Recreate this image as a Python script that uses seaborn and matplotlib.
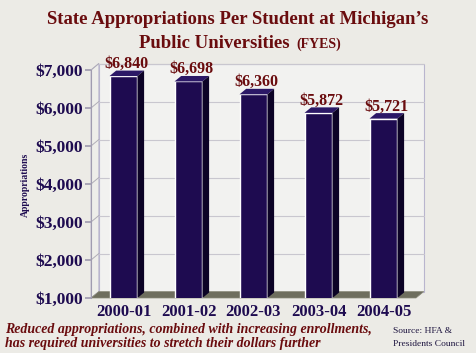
import matplotlib
matplotlib.use("Agg")
import matplotlib.pyplot as plt
import seaborn as sns
import pandas as pd
from matplotlib.patches import Polygon

years = ["2000-01", "2001-02", "2002-03", "2003-04", "2004-05"]
values = [6840, 6698, 6360, 5872, 5721]
value_labels = ["$6,840", "$6,698", "$6,360", "$5,872", "$5,721"]
yticks = [1000, 2000, 3000, 4000, 5000, 6000, 7000]
ytick_labels = ["$1,000", "$2,000", "$3,000", "$4,000", "$5,000", "$6,000", "$7,000"]

sns.set_theme(style="white")
plt.rcParams['font.family'] = ['Liberation Serif', 'DejaVu Serif']

BG = "#ECEBE6"
NAVY = "#1E0B50"
RED = "#6A0C0E"

fig = plt.figure(figsize=(4.76, 3.53), dpi=100, facecolor=BG)
ax = fig.add_axes([91/476, (353-298)/353, 325/476, 228/353])
ax.set_facecolor("none")

df = pd.DataFrame({"year": years, "value": values})
sns.barplot(data=df, x="year", y="value", color=NAVY, width=0.43, ax=ax,
            saturation=1, zorder=5)
bars = list(ax.patches)
ax.set_ylim(1000, 7000)
ax.set_xlim(-0.5, 4.5)

dx, dy = 0.12, 170
bd = 0.85
# back wall
wall = Polygon([(-0.5+dx, 1000+dy), (4.5+dx, 1000+dy), (4.5+dx, 7000+dy), (-0.5+dx, 7000+dy)],
               closed=True, facecolor="#F2F2F0", edgecolor="#B9B5CE", lw=0.8, clip_on=False, zorder=0)
ax.add_patch(wall)
side = Polygon([(-0.5, 1000), (-0.5+dx, 1000+dy), (-0.5+dx, 7000+dy), (-0.5, 7000)],
               closed=True, facecolor="#EEEEEA", edgecolor="#B9B5CE", lw=0.6, clip_on=False, zorder=0.5)
ax.add_patch(side)
for t in yticks[1:]:
    ax.plot([-0.5+dx, 4.5+dx], [t+dy, t+dy], color="#C9C7CF", lw=0.8, zorder=1, clip_on=False)
    ax.plot([-0.5, -0.5+dx], [t, t+dy], color="#B0ADB8", lw=0.7, zorder=1, clip_on=False)
floor = Polygon([(-0.5, 1000), (4.5, 1000), (4.5+dx, 1000+dy), (-0.5+dx, 1000+dy)],
                closed=True, facecolor="#6E6E5E", edgecolor="#8A8A7A", lw=0.5, clip_on=False, zorder=2)
ax.add_patch(floor)

for p, lab in zip(bars, value_labels):
    x0 = p.get_x(); w = p.get_width(); h = p.get_height() + p.get_y()
    top = Polygon([(x0, h), (x0+w, h), (x0+w+dx*bd, h+dy*bd), (x0+dx*bd, h+dy*bd)],
                  closed=True, facecolor="#2B1866", edgecolor="none", zorder=6, clip_on=False)
    sd = Polygon([(x0+w, 1000), (x0+w+dx*bd, 1000+dy*bd), (x0+w+dx*bd, h+dy*bd), (x0+w, h)],
                 closed=True, facecolor="#0C0326", edgecolor="none", zorder=6, clip_on=False)
    ax.add_patch(top); ax.add_patch(sd)
    ax.text(x0 + w/2 + 0.05, h + 110, lab, ha="center", va="bottom", color=RED,
            fontsize=11.5, fontweight="bold", zorder=7, clip_on=False)

for s in ["top", "right", "bottom"]:
    ax.spines[s].set_visible(False)
ax.spines["left"].set_color("#A09CB0")
ax.spines["left"].set_linewidth(0.8)
ax.set_yticks(yticks)
ax.set_yticklabels(ytick_labels, fontsize=12.5, fontweight="bold", color=NAVY)
ax.tick_params(axis="y", length=4, color="#A09CB0", left=True, pad=2)
ax.tick_params(axis="x", length=0, pad=4)
for lbl in ax.get_xticklabels():
    lbl.set_fontsize(12); lbl.set_fontweight("bold"); lbl.set_color(NAVY)
ax.set_xlabel("")
ax.set_ylabel("")

fig.text(25/476, 1 - 185/353, "Appropriations", rotation=90, ha="center", va="center",
         fontsize=7, fontweight="bold", color=NAVY)

fig.text(0.5, 1 - 20/353, "State Appropriations Per Student at Michigan\u2019s", ha="center",
         va="center", fontsize=13.5, fontweight="bold", color=RED)
fig.text(290/476, 1 - 44/353, "Public Universities", ha="right", va="center", fontsize=13.5,
         fontweight="bold", color=RED)
fig.text(296/476, 1 - 44/353, "(FYES)", ha="left", va="center", fontsize=10,
         fontweight="bold", color=RED)

fig.text(5/476, 1 - 329/353, "Reduced appropriations, combined with increasing enrollments,",
         ha="left", va="center", fontsize=10, fontweight="bold", style="italic", color=RED)
fig.text(5/476, 1 - 344/353, "has required universities to stretch their dollars further",
         ha="left", va="center", fontsize=10, fontweight="bold", style="italic", color=RED)
fig.text(393/476, 1 - 331/353, "Source: HFA &", ha="left", va="center", fontsize=6.8, color="#1E1540")
fig.text(393/476, 1 - 344/353, "Presidents Council", ha="left", va="center", fontsize=6.8, color="#1E1540")

fig.savefig("out.png", dpi=100, facecolor=BG)
